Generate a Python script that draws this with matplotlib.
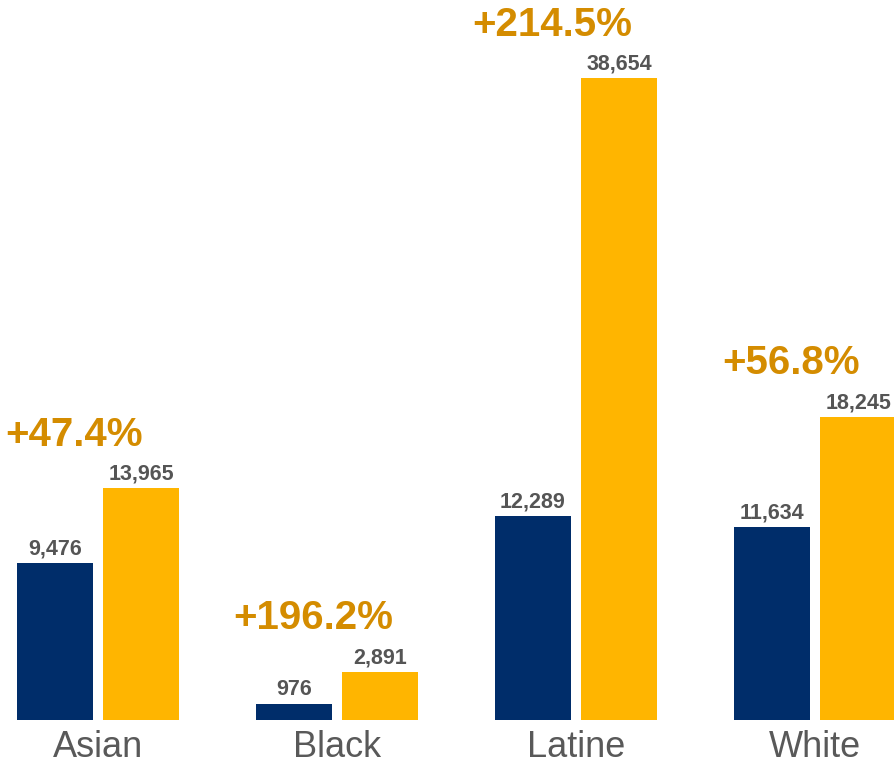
import matplotlib
matplotlib.use("Agg")
import matplotlib.pyplot as plt
import matplotlib.transforms as mtransforms
import numpy as np

plt.rcParams['font.family'] = ['Liberation Sans', 'DejaVu Sans']

categories = ["Asian", "Black", "Latine", "White"]
before = [9476, 976, 12289, 11634]
after = [13965, 2891, 38654, 18245]

navy = "#002D6A"
gold = "#FFB500"
pct_color = "#D48C00"
val_color = "#555555"
cat_color = "#595959"

W, H = 894, 765
fig = plt.figure(figsize=(W/100, H/100), dpi=100)
base_px = 720
ax = fig.add_axes([0, (H - base_px)/H, 1, base_px/H])

spacing_px = 239.0
first_center = 98.0
x = np.arange(len(categories))
bw = 76/spacing_px
off = 43.25/spacing_px

ax.bar(x - off, before, width=bw, color=navy)
ax.bar(x + off, after, width=bw, color=gold)

ax.set_xlim(-first_center/spacing_px, (W - first_center)/spacing_px)
ymax = after[2] * base_px / 642.0
ax.set_ylim(0, ymax)

pt = 0.72  # points per pixel at dpi 100
for i in range(len(categories)):
    ax.annotate(f"{before[i]:,}", (x[i] - off, before[i]), xytext=(0, 8.5*pt),
                textcoords="offset points", ha="center", va="baseline",
                fontsize=15.5, fontweight="bold", color=val_color)
    ax.annotate(f"{after[i]:,}", (x[i] + off, after[i]), xytext=(0, 8.5*pt),
                textcoords="offset points", ha="center", va="baseline",
                fontsize=15.5, fontweight="bold", color=val_color)

for i in range(len(categories)):
    pct = (after[i] / before[i] - 1) * 100
    ax.annotate(f"+{pct:.1f}%", (x[i], after[i]), xytext=(-24*pt, 42.5*pt),
                textcoords="offset points", ha="center", va="baseline",
                fontsize=29, fontweight="bold", color=pct_color)

trans = mtransforms.blended_transform_factory(ax.transData, ax.transAxes)
for i in range(len(categories)):
    ax.annotate(categories[i], (x[i], 0), xycoords=trans, xytext=(0, -37*pt),
                textcoords="offset points", ha="center", va="baseline",
                fontsize=26, color=cat_color, annotation_clip=False)

ax.set_xticks([])
ax.set_yticks([])
for s in ax.spines.values():
    s.set_visible(False)

fig.savefig("out.png", dpi=100)
